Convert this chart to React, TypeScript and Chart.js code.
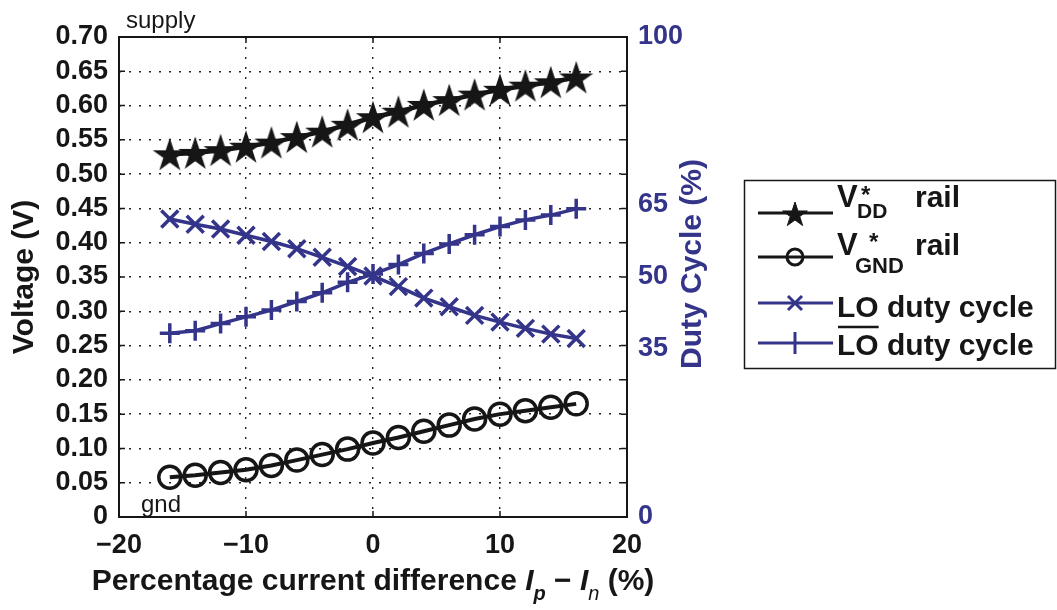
import React, { useEffect, useRef } from 'react';
import { Chart, registerables } from 'chart.js';

Chart.register(...registerables);

// ---------- data ----------
const xValues = [-16, -14, -12, -10, -8, -6, -4, -2, 0, 2, 4, 6, 8, 10, 12, 14, 16];
const vddRail = [0.529, 0.531, 0.535, 0.540, 0.546, 0.554, 0.562, 0.572, 0.583, 0.591, 0.601, 0.608, 0.616, 0.623, 0.629, 0.634, 0.641];
const gndRail = [0.058, 0.061, 0.065, 0.069, 0.075, 0.083, 0.091, 0.099, 0.108, 0.116, 0.125, 0.134, 0.143, 0.150, 0.155, 0.160, 0.165];
const loDuty = [62.1, 61.0, 60.0, 58.7, 57.4, 55.9, 54.1, 52.2, 50.2, 48.0, 45.6, 43.8, 42.0, 40.6, 39.3, 38.1, 37.2];
const loBarDuty = [38.3, 38.8, 40.3, 41.7, 43.1, 44.9, 46.7, 48.9, 50.6, 52.6, 54.9, 56.9, 58.8, 60.5, 61.9, 62.9, 64.2];
const xTicks = [-20, -10, 0, 10, 20];
const yTicks = [0, 0.05, 0.1, 0.15, 0.2, 0.25, 0.3, 0.35, 0.4, 0.45, 0.5, 0.55, 0.6, 0.65, 0.7];
const rightTicks = [0, 35, 50, 65, 100];

const BLUE = '#34348a';
const INK = '#161616';
const FONT = "'Liberation Sans', Arial, Helvetica, sans-serif";

function drawStar(ctx: CanvasRenderingContext2D, cx: number, cy: number, R: number) {
  const r = R * 0.382;
  ctx.beginPath();
  for (let i = 0; i < 10; i++) {
    const rad = i % 2 === 0 ? R : r;
    const a = -Math.PI / 2 + (i * Math.PI) / 5;
    const px = cx + rad * Math.cos(a);
    const py = cy + rad * Math.sin(a);
    if (i === 0) ctx.moveTo(px, py);
    else ctx.lineTo(px, py);
  }
  ctx.closePath();
  ctx.fill();
  ctx.stroke();
}

function makeStarImage(R: number): HTMLCanvasElement {
  const c = document.createElement('canvas');
  const s = Math.ceil(R * 2 + 4);
  c.width = s;
  c.height = s;
  const g = c.getContext('2d')!;
  g.fillStyle = INK;
  g.strokeStyle = INK;
  g.lineWidth = 1.2;
  g.lineJoin = 'miter';
  drawStar(g, s / 2, s / 2 + 1.5, R);
  return c;
}

type Run = { t: string; f: string; dy?: number };
function drawRuns(ctx: CanvasRenderingContext2D, runs: Run[], x: number, y: number, align: 'left' | 'center') {
  let total = 0;
  for (const r of runs) {
    ctx.font = r.f;
    total += ctx.measureText(r.t).width;
  }
  let cx = align === 'center' ? x - total / 2 : x;
  ctx.textAlign = 'left';
  ctx.textBaseline = 'alphabetic';
  for (const r of runs) {
    ctx.font = r.f;
    ctx.fillText(r.t, cx, y + (r.dy || 0));
    cx += ctx.measureText(r.t).width;
  }
}

const decorPlugin = {
  id: 'decor',
  afterDraw(chart: any) {
    const ctx: CanvasRenderingContext2D = chart.ctx;
    const a = chart.chartArea;
    const xs = chart.scales.x;
    const ys = chart.scales.y;
    ctx.save();
    ctx.setLineDash([]);
    // inner tick marks
    ctx.strokeStyle = INK;
    ctx.lineWidth = 1.5;
    ctx.beginPath();
    xs.ticks.forEach((t: any) => {
      const px = xs.getPixelForValue(t.value);
      ctx.moveTo(px, a.bottom);
      ctx.lineTo(px, a.bottom - 6);
      ctx.moveTo(px, a.top);
      ctx.lineTo(px, a.top + 6);
    });
    ys.ticks.forEach((t: any) => {
      const py = ys.getPixelForValue(t.value);
      ctx.moveTo(a.left, py);
      ctx.lineTo(a.left + 6, py);
      ctx.moveTo(a.right, py);
      ctx.lineTo(a.right - 6, py);
    });
    ctx.stroke();
    // frame
    ctx.lineWidth = 2;
    ctx.strokeRect(a.left, a.top, a.right - a.left, a.bottom - a.top);

    // axis titles
    ctx.fillStyle = INK;
    ctx.font = `bold 30px ${FONT}`;
    ctx.textAlign = 'center';
    ctx.textBaseline = 'middle';
    ctx.save();
    ctx.translate(25, (a.top + a.bottom) / 2);
    ctx.rotate(-Math.PI / 2);
    ctx.fillText('Voltage (V)', 0, 0);
    ctx.restore();

    ctx.fillStyle = BLUE;
    ctx.save();
    ctx.translate(a.right + 66, 264);
    ctx.rotate(-Math.PI / 2);
    ctx.fillText('Duty Cycle (%)', 0, 0);
    ctx.restore();

    ctx.fillStyle = INK;
    drawRuns(
      ctx,
      [
        { t: 'Percentage current difference ', f: `bold 30px ${FONT}` },
        { t: 'I', f: `italic bold 30px ${FONT}` },
        { t: 'p', f: `italic bold 20px ${FONT}`, dy: 10 },
        { t: ' \u2212 ', f: `bold 30px ${FONT}` },
        { t: 'I', f: `italic bold 30px ${FONT}` },
        { t: 'n', f: `italic 20px ${FONT}`, dy: 10 },
        { t: ' (%)', f: `bold 30px ${FONT}` },
      ],
      (a.left + a.right) / 2,
      590,
      'center'
    );

    // annotations
    ctx.font = `24px ${FONT}`;
    ctx.textAlign = 'left';
    ctx.textBaseline = 'alphabetic';
    ctx.fillText('supply', a.left + 7, 28);
    ctx.fillText('gnd', a.left + 22, a.bottom - 5);

    // legend
    const lx0 = 758, lx1 = 833, mx = 795, tx = 837;
    ctx.lineWidth = 1.5;
    ctx.strokeStyle = INK;
    ctx.strokeRect(744.5, 180.5, 1055 - 744, 368 - 180);

    const hline = (y: number, color: string) => {
      ctx.strokeStyle = color;
      ctx.lineWidth = 3;
      ctx.beginPath();
      ctx.moveTo(lx0, y);
      ctx.lineTo(lx1, y);
      ctx.stroke();
    };
    // row 1: VDD*
    hline(213, INK);
    ctx.fillStyle = INK;
    ctx.strokeStyle = INK;
    ctx.lineWidth = 1;
    drawStar(ctx, mx, 215, 13);
    ctx.font = `bold 31px ${FONT}`;
    ctx.fillText('V', tx, 207);
    ctx.font = `bold 21px ${FONT}`;
    ctx.fillText('DD', tx + 20, 218);
    ctx.font = `bold 24px ${FONT}`;
    ctx.fillText('*', tx + 24, 203);
    ctx.font = `bold 30px ${FONT}`;
    ctx.fillText('rail', 915, 207);

    // row 2: VGND*
    hline(257, INK);
    ctx.strokeStyle = INK;
    ctx.lineWidth = 3;
    ctx.beginPath();
    ctx.arc(mx, 257, 8, 0, Math.PI * 2);
    ctx.stroke();
    ctx.font = `bold 31px ${FONT}`;
    ctx.fillText('V', tx, 255);
    ctx.font = `bold 22px ${FONT}`;
    ctx.fillText('GND', tx + 18, 273);
    ctx.font = `bold 24px ${FONT}`;
    ctx.fillText('*', tx + 32, 250);
    ctx.font = `bold 30px ${FONT}`;
    ctx.fillText('rail', 915, 255);

    // row 3: LO duty cycle
    hline(303, BLUE);
    ctx.strokeStyle = BLUE;
    ctx.lineWidth = 3;
    ctx.beginPath();
    ctx.moveTo(mx - 7, 296);
    ctx.lineTo(mx + 7, 310);
    ctx.moveTo(mx + 7, 296);
    ctx.lineTo(mx - 7, 310);
    ctx.stroke();
    ctx.fillStyle = INK;
    ctx.font = `bold 30px ${FONT}`;
    ctx.fillText('LO duty cycle', tx, 317);

    // row 4: LO-bar duty cycle
    hline(343, BLUE);
    ctx.strokeStyle = BLUE;
    ctx.lineWidth = 3;
    ctx.beginPath();
    ctx.moveTo(mx, 332);
    ctx.lineTo(mx, 354);
    ctx.stroke();
    ctx.fillText('LO duty cycle', tx, 355);
    const loW = ctx.measureText('LO').width;
    ctx.strokeStyle = INK;
    ctx.lineWidth = 2.5;
    ctx.beginPath();
    ctx.moveTo(tx + 1, 327);
    ctx.lineTo(tx + loW, 327);
    ctx.stroke();

    ctx.restore();
  },
};

export default function App() {
  const ref = useRef<HTMLCanvasElement>(null);

  useEffect(() => {
    const canvas = ref.current!;
    const star = makeStarImage(16);
    const tickFont = { family: FONT, size: 27, weight: 'bold' as const };
    const dotted = [2, 8];

    const chart = new Chart(canvas, {
      type: 'line',
      data: {
        datasets: [
          {
            label: 'LO duty cycle',
            data: xValues.map((x, i) => ({ x, y: loDuty[i] })),
            yAxisID: 'y1',
            borderColor: BLUE,
            borderWidth: 3.5,
            pointStyle: 'crossRot',
            pointRadius: 12,
            pointBorderWidth: 3.5,
            pointBorderColor: BLUE,
            pointBackgroundColor: BLUE,
            tension: 0,
          },
          {
            label: 'LO-bar duty cycle',
            data: xValues.map((x, i) => ({ x, y: loBarDuty[i] })),
            yAxisID: 'y1',
            borderColor: BLUE,
            borderWidth: 3.5,
            pointStyle: 'cross',
            pointRadius: 10,
            pointBorderWidth: 3.5,
            pointBorderColor: BLUE,
            pointBackgroundColor: BLUE,
            tension: 0,
          },
          {
            label: 'VGND* rail',
            data: xValues.map((x, i) => ({ x, y: gndRail[i] })),
            yAxisID: 'y',
            borderColor: INK,
            borderWidth: 4,
            pointStyle: 'circle',
            pointRadius: 11,
            pointBorderWidth: 3.5,
            pointBorderColor: INK,
            pointBackgroundColor: 'rgba(0,0,0,0)',
            tension: 0,
          },
          {
            label: 'VDD* rail',
            data: xValues.map((x, i) => ({ x, y: vddRail[i] })),
            yAxisID: 'y',
            borderColor: INK,
            borderWidth: 4.5,
            pointStyle: star as any,
            pointRadius: 15,
            pointBorderColor: INK,
            pointBackgroundColor: INK,
            tension: 0,
          },
        ],
      },
      options: {
        responsive: false,
        animation: false,
        devicePixelRatio: 1,
        layout: { padding: { top: 37, left: 0, right: 0, bottom: 0 } },
        plugins: {
          legend: { display: false },
          tooltip: { enabled: false },
        },
        elements: { line: { fill: false } },
        scales: {
          x: {
            type: 'linear',
            min: -20,
            max: 20,
            afterBuildTicks: (s: any) => {
              s.ticks = xTicks.map((v) => ({ value: v }));
            },
            afterFit: (s: any) => {
              s.height = 93;
            },
            ticks: {
              font: tickFont,
              color: INK,
              padding: 12,
              maxRotation: 0,
              autoSkip: false,
              callback: (v: any) => (Number(v) < 0 ? '\u2212' + Math.abs(Number(v)) : String(v)),
            },
            grid: { color: '#222', lineWidth: 1.4, drawTicks: false },
            border: { display: false, dash: dotted },
          },
          y: {
            type: 'linear',
            position: 'left',
            min: 0,
            max: 0.7,
            afterBuildTicks: (s: any) => {
              s.ticks = yTicks.map((v) => ({ value: v }));
            },
            afterFit: (s: any) => {
              s.width = 119;
            },
            ticks: {
              font: tickFont,
              color: INK,
              padding: 11,
              autoSkip: false,
              callback: (v: any) => (Number(v) === 0 ? '0' : Number(v).toFixed(2)),
            },
            grid: { color: '#222', lineWidth: 1.4, drawTicks: false },
            border: { display: false, dash: dotted },
          },
          y1: {
            type: 'linear',
            position: 'right',
            min: 0,
            max: 100,
            afterBuildTicks: (s: any) => {
              s.ticks = rightTicks.map((v) => ({ value: v }));
            },
            afterFit: (s: any) => {
              s.width = 430;
            },
            ticks: {
              font: tickFont,
              color: BLUE,
              padding: 11,
              autoSkip: false,
            },
            grid: { display: false, drawTicks: false },
            border: { display: false },
          },
        },
      },
      plugins: [decorPlugin],
    } as any);

    return () => chart.destroy();
  }, []);

  return (
    <canvas
      ref={ref}
      width={1057}
      height={610}
      style={{ position: 'absolute', left: 0, top: 0, width: 1057, height: 610, display: 'block' }}
    />
  );
}
